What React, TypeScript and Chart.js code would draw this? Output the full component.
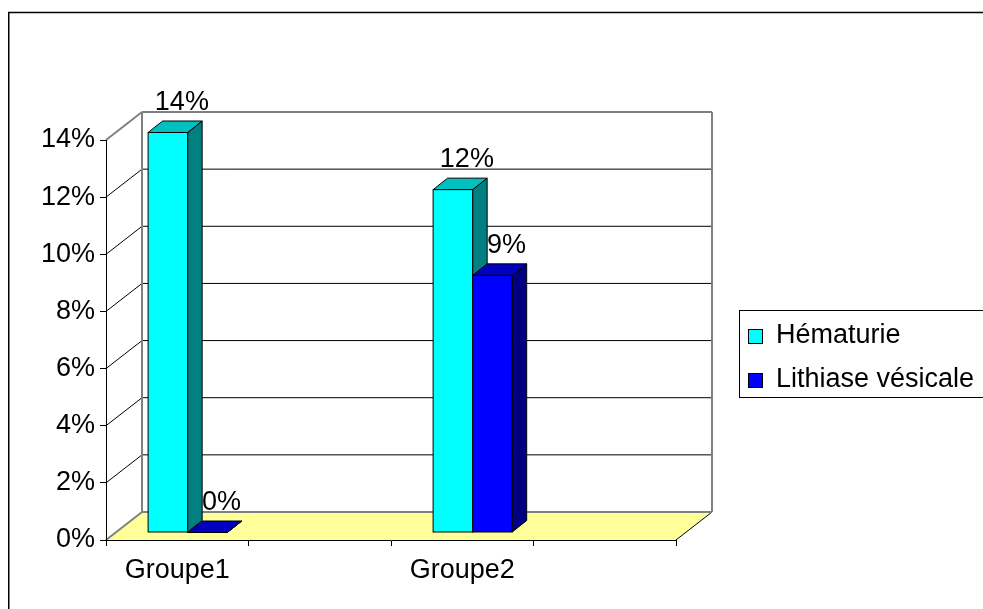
import React, { useEffect, useRef } from 'react';
import { Chart, registerables } from 'chart.js';

Chart.register(...registerables);

// ---- data ----
const categories: string[] = ['Groupe1', '', 'Groupe2', ''];
const hematurie: (number | null)[] = [14, null, 12, null];
const lithiase: (number | null)[] = [0, null, 9, null];
const seriesNames: string[] = ['Hématurie', 'Lithiase vésicale'];
const yMin = 0;
const yMax = 14;
const yStep = 2;

// ---- style ----
const FONT = '"Liberation Sans", Arial, sans-serif';
const FS = 27;
const seriesFront = ['#00FFFF', '#0000FF'];
const seriesTop = ['#00C0C0', '#0000C0'];
const seriesSide = ['#008080', '#000080'];
const WALL_DX = 36;
const WALL_DY = 28;
const BAR_OX = 10.4;
const BAR_OY = -7.5;
const BAR_DX = 14.5;
const BAR_DY = 11.5;

const threeD = {
  id: 'threeD',
  beforeDraw(chart: any) {
    const { ctx, chartArea, scales } = chart;
    const { left: L, right: R, top: T, bottom: B } = chartArea;
    const y = scales.y;
    ctx.save();
    // outer frame
    ctx.strokeStyle = '#000';
    ctx.lineWidth = 1.5;
    ctx.beginPath();
    ctx.moveTo(8.75, 609);
    ctx.lineTo(8.75, 12.5);
    ctx.lineTo(983, 12.5);
    ctx.stroke();

    // floor
    ctx.fillStyle = '#FFFF99';
    ctx.beginPath();
    ctx.moveTo(L, B);
    ctx.lineTo(R, B);
    ctx.lineTo(R + WALL_DX, B - WALL_DY);
    ctx.lineTo(L + WALL_DX, B - WALL_DY);
    ctx.closePath();
    ctx.fill();
    ctx.strokeStyle = '#000';
    ctx.lineWidth = 1;
    ctx.beginPath();
    ctx.moveTo(R, B);
    ctx.lineTo(R + WALL_DX, B - WALL_DY);
    ctx.stroke();

    // back wall gridlines & side wall diagonals
    const ticks = y.ticks.map((t: any) => t.value);
    ticks.forEach((v: number) => {
      const py = y.getPixelForValue(v);
      const edge = v === yMin || v === yMax;
      ctx.strokeStyle = edge ? '#808080' : '#000';
      ctx.lineWidth = edge ? 2 : 1;
      ctx.beginPath();
      ctx.moveTo(L + WALL_DX, py - WALL_DY);
      ctx.lineTo(R + WALL_DX, py - WALL_DY);
      ctx.stroke();
      ctx.beginPath();
      ctx.moveTo(L, py);
      ctx.lineTo(L + WALL_DX, py - WALL_DY);
      ctx.stroke();
    });
    ctx.strokeStyle = '#808080';
    ctx.lineWidth = 2;
    ctx.beginPath();
    ctx.moveTo(L + WALL_DX, T - WALL_DY);
    ctx.lineTo(L + WALL_DX, B - WALL_DY);
    ctx.moveTo(R + WALL_DX, T - WALL_DY);
    ctx.lineTo(R + WALL_DX, B - WALL_DY);
    ctx.stroke();
    ctx.restore();
  },
  beforeDatasetsDraw(chart: any) {
    const { ctx } = chart;
    ctx.save();
    ctx.strokeStyle = '#000';
    ctx.lineWidth = 1;
    ctx.lineJoin = 'miter';
    const n = chart.data.labels.length;
    for (let i = 0; i < n; i++) {
      chart.data.datasets.forEach((ds: any, d: number) => {
        if (ds.data[i] === null || ds.data[i] === undefined) return;
        const el = chart.getDatasetMeta(d).data[i];
        const l = el.x - el.width / 2 + BAR_OX;
        const r = el.x + el.width / 2 + BAR_OX;
        const t = el.y + BAR_OY;
        const b = el.base + BAR_OY;
        // side
        ctx.fillStyle = seriesSide[d];
        ctx.beginPath();
        ctx.moveTo(r, t);
        ctx.lineTo(r + BAR_DX, t - BAR_DY);
        ctx.lineTo(r + BAR_DX, b - BAR_DY);
        ctx.lineTo(r, b);
        ctx.closePath();
        ctx.fill();
        ctx.stroke();
        // top
        ctx.fillStyle = seriesTop[d];
        ctx.beginPath();
        ctx.moveTo(l, t);
        ctx.lineTo(l + BAR_DX, t - BAR_DY);
        ctx.lineTo(r + BAR_DX, t - BAR_DY);
        ctx.lineTo(r, t);
        ctx.closePath();
        ctx.fill();
        ctx.stroke();
        // front
        if (b - t > 0.5) {
          ctx.fillStyle = seriesFront[d];
          ctx.fillRect(l, t, r - l, b - t);
          ctx.strokeRect(l, t, r - l, b - t);
        }
      });
    }
    ctx.restore();
    return false;
  },
  afterDraw(chart: any) {
    const { ctx } = chart;
    ctx.save();
    // data labels
    ctx.fillStyle = '#000';
    ctx.font = `${FS}px ${FONT}`;
    ctx.textAlign = 'center';
    ctx.textBaseline = 'middle';
    chart.data.datasets.forEach((ds: any, d: number) => {
      chart.getDatasetMeta(d).data.forEach((el: any, i: number) => {
        const v = ds.data[i];
        if (v === null || v === undefined) return;
        const cx = el.x + BAR_OX + 14;
        const cy = el.y + BAR_OY - 30;
        ctx.fillText(`${v}%`, cx, cy);
      });
    });
    // legend
    const lx = chart.chartArea.right + 63;
    const ly = 310;
    ctx.strokeStyle = '#000';
    ctx.lineWidth = 1;
    ctx.strokeRect(lx + 0.5, ly + 0.5, 400, 87);
    ctx.textAlign = 'left';
    chart.data.datasets.forEach((ds: any, d: number) => {
      const rowY = ly + 26 + d * 44;
      ctx.fillStyle = seriesFront[d];
      ctx.fillRect(lx + 9.5, rowY - 6.5, 14, 14);
      ctx.strokeRect(lx + 9.5, rowY - 6.5, 14, 14);
      ctx.fillStyle = '#000';
      ctx.fillText(ds.label, lx + 37, rowY);
    });
    ctx.restore();
  },
};

export default function App() {
  const ref = useRef<HTMLCanvasElement | null>(null);
  useEffect(() => {
    if (!ref.current) return;
    const chart = new Chart(ref.current, {
      type: 'bar',
      data: {
        labels: categories,
        datasets: [
          { label: seriesNames[0], data: hematurie, backgroundColor: seriesFront[0] },
          { label: seriesNames[1], data: lithiase, backgroundColor: seriesFront[1] },
        ],
      },
      options: {
        responsive: false,
        animation: false,
        devicePixelRatio: 1,
        layout: { padding: { left: 0, top: 140, right: 307, bottom: 19 } },
        datasets: { bar: { categoryPercentage: 0.555, barPercentage: 1 } },
        plugins: { legend: { display: false }, tooltip: { enabled: false } },
        scales: {
          x: {
            type: 'category',
            offset: true,
            grid: { display: true, offset: true, drawOnChartArea: false, drawTicks: true, tickLength: 6, color: '#000' },
            border: { display: true, color: '#000', width: 1 },
            ticks: { font: { family: FONT, size: FS }, color: '#000', padding: 8, autoSkip: false, maxRotation: 0 },
            afterFit: (s: any) => { s.height = 50; },
          },
          y: {
            min: yMin,
            max: yMax,
            grid: { display: true, drawOnChartArea: false, drawTicks: true, tickLength: 6, color: '#000' },
            border: { display: true, color: '#000', width: 1 },
            ticks: {
              stepSize: yStep,
              font: { family: FONT, size: FS },
              color: '#000',
              padding: 5,
              callback: (v: any) => `${v}%`,
            },
            afterFit: (s: any) => { s.width = 106; },
          },
        },
      },
      plugins: [threeD],
    });
    return () => chart.destroy();
  }, []);
  return (
    <div style={{ position: 'fixed', left: 0, top: 0, width: 983, height: 609, background: '#fff' }}>
      <canvas ref={ref} width={983} height={609} style={{ display: 'block' }} />
    </div>
  );
}
